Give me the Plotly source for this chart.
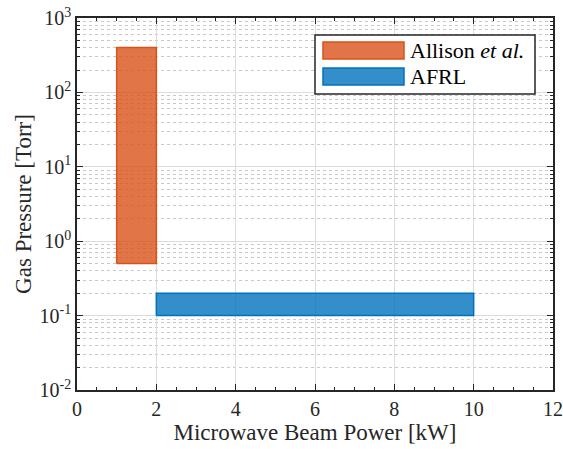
import plotly.graph_objects as go

# Data: parameter regions (power range in kW, pressure range in Torr)
names = ["Allison <i>et al.</i>", "AFRL"]
power_min = [1, 2]
power_max = [2, 10]
pressure_min = [0.5, 0.1]
pressure_max = [400, 0.2]
edge_colors = ["#D95319", "#0072BD"]
fill_colors = ["rgba(217,83,25,0.8)", "rgba(0,114,189,0.8)"]

y_tickvals = [0.01, 0.1, 1, 10, 100, 1000]
y_ticktext = ["10<sup>-2</sup>", "10<sup>-1</sup>", "10<sup>0</sup>", "10<sup>1</sup>", "10<sup>2</sup>", "10<sup>3</sup>"]

FONT = "Liberation Serif"

fig = go.Figure()
for i in range(len(names)):
    x0, x1 = power_min[i], power_max[i]
    y0, y1 = pressure_min[i], pressure_max[i]
    fig.add_trace(go.Scatter(
        x=[x0, x1, x1, x0, x0], y=[y0, y0, y1, y1, y0],
        mode="lines", fill="toself", fillcolor=fill_colors[i],
        line=dict(color=edge_colors[i], width=1.5),
        name=names[i], showlegend=False, hoverinfo="skip"))

fig.update_layout(
    width=563, height=449,
    margin=dict(l=77, r=10, t=18, b=59, autoexpand=False),
    paper_bgcolor="white", plot_bgcolor="white",
    font=dict(family=FONT, size=20, color="#262626"),
)
fig.update_xaxes(
    range=[0, 12], dtick=2, tick0=0, automargin=False,
    showline=True, linecolor="#262626", linewidth=1.5, mirror="allticks",
    ticks="inside", ticklen=6, tickcolor="#262626",
    showgrid=True, gridcolor="#DCDCDC", gridwidth=1, zeroline=False,
    minor=dict(dtick=0.5, ticks="inside", ticklen=3, tickcolor="#262626", showgrid=False),
    title=dict(text="Microwave Beam Power [kW]", font=dict(size=23, family=FONT), standoff=2),
    tickfont=dict(size=20, family=FONT),
)
fig.update_yaxes(
    type="log", range=[-2, 3], automargin=False,
    tickvals=y_tickvals, ticktext=y_ticktext,
    showline=True, linecolor="#262626", linewidth=1.5, mirror="allticks",
    ticks="inside", ticklen=6, tickcolor="#262626",
    showgrid=True, gridcolor="#DCDCDC", gridwidth=1, zeroline=False,
    minor=dict(dtick="D1", ticks="inside", ticklen=3, tickcolor="#262626",
               showgrid=True, gridcolor="#C8C8C8", griddash="dot", gridwidth=1),
    title=dict(text="Gas Pressure [Torr]", font=dict(size=23, family=FONT), standoff=2),
    tickfont=dict(size=20, family=FONT),
)

# Custom legend (box + patches + labels) in paper coordinates
pw, ph = 476.0, 372.0
def px(xp):
    return (xp - 77) / pw
def py(yp):
    return 1 - (yp - 18) / ph

fig.add_shape(type="rect", xref="paper", yref="paper",
              x0=px(315), x1=px(535), y0=py(94), y1=py(35),
              fillcolor="white", line=dict(color="#262626", width=1.5), layer="above")
patch_rows = [(42, 59), (68, 85)]
for i, (t, b) in enumerate(patch_rows):
    fig.add_shape(type="rect", xref="paper", yref="paper",
                  x0=px(323), x1=px(404), y0=py(b), y1=py(t),
                  fillcolor=fill_colors[i], line=dict(color=edge_colors[i], width=1.5), layer="above")
    fig.add_annotation(xref="paper", yref="paper", x=px(408), y=py((t + b) / 2),
                       text=names[i], showarrow=False, xanchor="left", yanchor="middle",
                       font=dict(size=22, family=FONT, color="black"))

fig.write_html("out.html")
